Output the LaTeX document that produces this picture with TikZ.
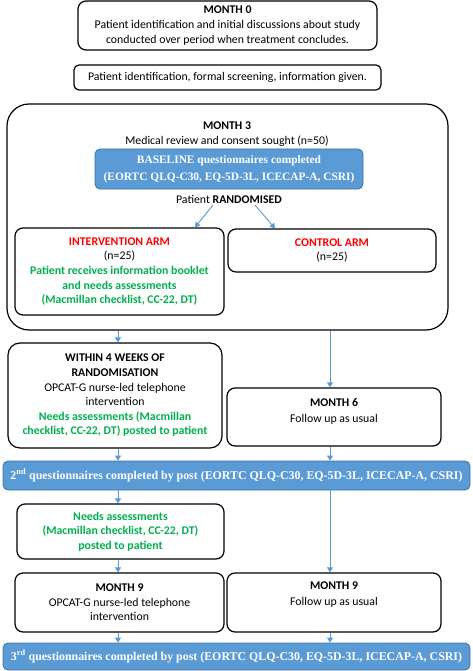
\documentclass[tikz,border=0pt]{standalone}
\usepackage{fontspec}
\setmainfont{Carlito}
\newfontfamily\qfont{Liberation Serif}
\usetikzlibrary{arrows.meta,calc}
\definecolor{qblue}{HTML}{5B9BD5}
\definecolor{qborder}{HTML}{41719C}
\definecolor{arrblue}{HTML}{5B9BD5}
\definecolor{ngreen}{HTML}{00B050}
\definecolor{nred}{HTML}{FF0000}
\tikzset{
  box/.style={draw=black, line width=1.2pt, rounded corners=8pt, fill=white, align=center, inner sep=0pt,
    font=\fontsize{11.8}{14.6}\selectfont},
  qbox/.style={draw=qborder, line width=0.8pt, rounded corners=5pt, fill=qblue, align=center, inner sep=0pt,
    text=white, font=\qfont\bfseries\fontsize{11.9}{17}\selectfont},
  txt/.style={align=center, inner sep=0pt, font=\fontsize{11.8}{15.5}\selectfont},
  arr/.style={draw=arrblue, line width=0.9pt, -{Triangle[length=5pt,width=6pt]}},
}
\newcommand{\gb}[1]{{\color{ngreen}\bfseries #1}}
\newcommand{\rb}[1]{{\color{nred}\bfseries #1}}
\begin{document}
\begin{tikzpicture}[x=1pt,y=-1pt]
\useasboundingbox (0,0) rectangle (473,671);
% columns
\coordinate (colL) at (118,0);
\coordinate (colR) at (330,0);
% Month 0
\node[box, minimum width=299pt, minimum height=49pt] (m0) at (227.5,25.5)
  {\textbf{MONTH 0}\\Patient identification and initial discussions about study\\conducted over period when treatment concludes.};
\node[box, minimum width=307pt, minimum height=25pt, rounded corners=5pt] (m0b) at (227.5,77.5)
  {Patient identification, formal screening, information given.};
% Month 3 big box
\node[box, minimum width=441pt, minimum height=226pt, rounded corners=22pt] (m3) at (227.5,217) {};
\node[txt] (m3t) at (227,134) {\textbf{MONTH 3}\\Medical review and consent sought (n=50)};
\node[qbox, minimum width=268pt, minimum height=40pt, font=\qfont\bfseries\fontsize{11.4}{17}\selectfont] (base) at (229,169)
  {BASELINE questionnaires completed\\(EORTC QLQ-C30, EQ-5D-3L, ICECAP-A, CSRI)};
\node[txt] (rand) at (229,199) {Patient \textbf{RANDOMISED}};
\node[box, minimum width=209pt, minimum height=87pt] (intv) at (119.5,271.5)
  {\rb{INTERVENTION ARM}\\(n=25)\\\gb{Patient receives information booklet}\\\gb{and needs assessments}\\\gb{(Macmillan checklist, CC-22, DT)}};
\node[box, minimum width=208pt, minimum height=43pt] (ctrl) at (332,250.5)
  {\rb{CONTROL ARM}\\(n=25)};
\coordinate (ra1) at (213,205);
\coordinate (ra2) at (255,205);
\draw[arr] (ra1) -- (intv.north -| 195,0);
\draw[arr] (ra2) -- (ctrl.north -| 275,0);
% Within 4 weeks
\node[box, minimum width=214pt, minimum height=105pt, rounded corners=12pt] (w4) at (115,395.5)
  {\textbf{WITHIN 4 WEEKS OF}\\\textbf{RANDOMISATION}\\OPCAT-G nurse-led telephone\\intervention\\\gb{Needs assessments (Macmillan}\\\gb{checklist, CC-22, DT) posted to patient}};
\node[box, minimum width=214pt, minimum height=58pt] (m6) at (334,417) {};
\node[txt] (m6t) at (334,411.5) {\textbf{MONTH 6}\\Follow up as usual};
\draw[arr] (m3.south -| colL) -- (w4.north -| colL);
\draw[arr] (m3.south -| colR) -- (m6.north -| colR);
% Q2
\node[qbox, minimum width=467pt, minimum height=29pt] (q2) at (236.5,475.5)
  {2\textsuperscript{nd} questionnaires completed by post (EORTC QLQ-C30, EQ-5D-3L, ICECAP-A, CSRI)};
\draw[arr] (w4.south -| colL) -- (q2.north -| colL);
\draw[arr] (m6.south -| colR) -- (q2.north -| colR);
% Needs
\node[box, minimum width=207pt, minimum height=55pt] (needs) at (120.5,531.5)
  {\gb{Needs assessments}\\\gb{(Macmillan checklist, CC-22, DT)}\\\gb{posted to patient}};
\draw[arr] (q2.south -| colL) -- (needs.north -| colL);
% Month 9
\node[box, minimum width=209pt, minimum height=59pt] (m9l) at (119.5,602.5)
  {\textbf{MONTH 9}\\OPCAT-G nurse-led telephone\\intervention};
\node[box, minimum width=214pt, minimum height=59pt] (m9r) at (334,602.5) {};
\node[txt] (m9rt) at (334,594.5) {\textbf{MONTH 9}\\Follow up as usual};
\draw[arr] (needs.south -| colL) -- (m9l.north -| colL);
\draw[arr] (q2.south -| colR) -- (m9r.north -| colR);
% Q3
\node[qbox, minimum width=467pt, minimum height=27pt] (q3) at (236.5,656.5)
  {3\textsuperscript{rd} questionnaires completed by post (EORTC QLQ-C30, EQ-5D-3L, ICECAP-A, CSRI)};
\draw[arr] (m9l.south -| colL) -- (q3.north -| colL);
\draw[arr] (m9r.south -| colR) -- (q3.north -| colR);
\end{tikzpicture}
\end{document}
